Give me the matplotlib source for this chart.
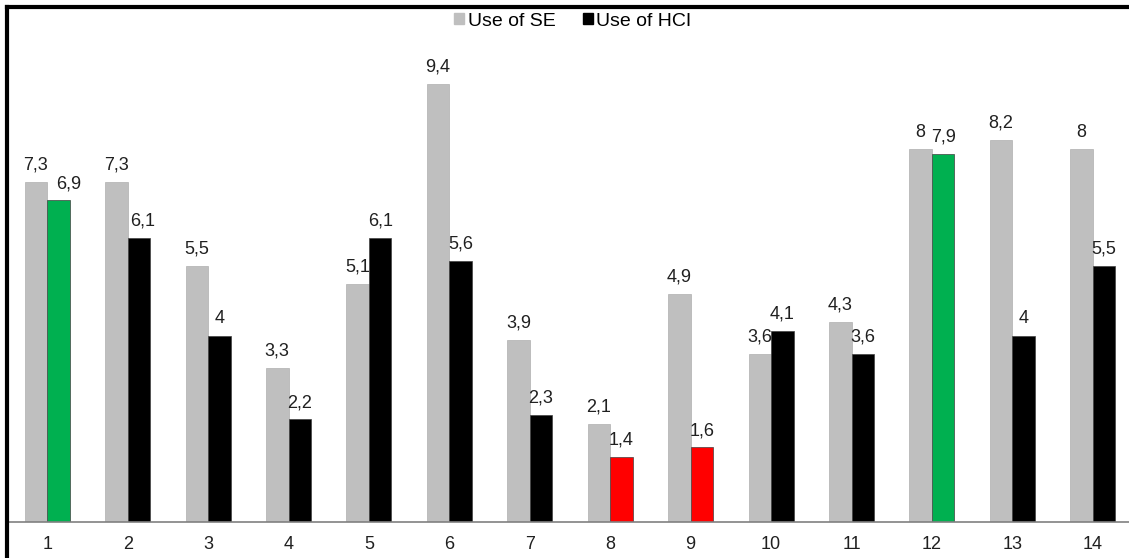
import matplotlib.pyplot as plt
import numpy as np
from matplotlib.lines import Line2D
from matplotlib.patches import Patch

plt.rcParams["font.family"] = ["Liberation Sans", "DejaVu Sans"]

categories = [str(i) for i in range(1, 15)]
use_se = [7.3, 7.3, 5.5, 3.3, 5.1, 9.4, 3.9, 2.1, 4.9, 3.6, 4.3, 8, 8.2, 8]
use_hci = [6.9, 6.1, 4, 2.2, 6.1, 5.6, 2.3, 1.4, 1.6, 4.1, 3.6, 7.9, 4, 5.5]
hci_highlight = {1: "green", 8: "red", 9: "red", 12: "green"}

colors = {"grey": "#bfbfbf", "black": "#000000", "green": "#00b050", "red": "#ff0000"}


def fmt(v):
    s = f"{v:g}"
    return s.replace(".", ",")


fig = plt.figure(figsize=(11.29, 5.58), dpi=100)
ax = fig.add_axes([7 / 1129, 36 / 558, 1 - 7 / 1129, (522 - 7) / 558])

x = np.arange(1, len(categories) + 1)
w = 0.28
hci_colors = [colors[hci_highlight.get(i, "black")] for i in x]

b1 = ax.bar(x - w / 2, use_se, w, color=colors["grey"], edgecolor="#b0b0b0", linewidth=0.5)
b2 = ax.bar(x + w / 2, use_hci, w, color=hci_colors, edgecolor="#404040", linewidth=0.5)

ax.bar_label(b1, labels=[fmt(v) for v in use_se], padding=6, fontsize=13, color="#202020")
hci_texts = ax.bar_label(b2, labels=[fmt(v) for v in use_hci], padding=6, fontsize=13, color="#202020")
# nudge the crowded labels to the right like the original
hci_texts[0].xyann = (7, 6)
hci_texts[1].xyann = (3, 6)

ax.set_xlim(0.5, 14.45)
ax.set_ylim(0, 11.05)
ax.set_xticks(x)
ax.set_xticklabels(categories, fontsize=13, color="#202020")
ax.tick_params(axis="x", length=0, pad=10)
ax.set_yticks([])
for side in ["top", "left", "right"]:
    ax.spines[side].set_visible(False)
ax.spines["bottom"].set_color("#808080")
ax.spines["bottom"].set_linewidth(1.2)

handles = [Patch(color=colors["grey"]), Patch(color=colors["black"])]
fig.legend(handles, ["Use of SE", "Use of HCI"], loc="center", bbox_to_anchor=(573 / 1129, 1 - 21 / 558),
           ncol=2, frameon=False, fontsize=14, handlelength=0.5, handleheight=0.5,
           handletextpad=0.2, columnspacing=1.4)

# outer frame (top and left only visible)
fig.add_artist(Line2D([7 / 1129, 1], [1 - 7 / 558, 1 - 7 / 558], color="black", linewidth=3,
                      transform=fig.transFigure))
fig.add_artist(Line2D([7 / 1129, 7 / 1129], [0, 1 - 7 / 558], color="black", linewidth=3,
                      transform=fig.transFigure))

fig.savefig("out.png", dpi=100)
